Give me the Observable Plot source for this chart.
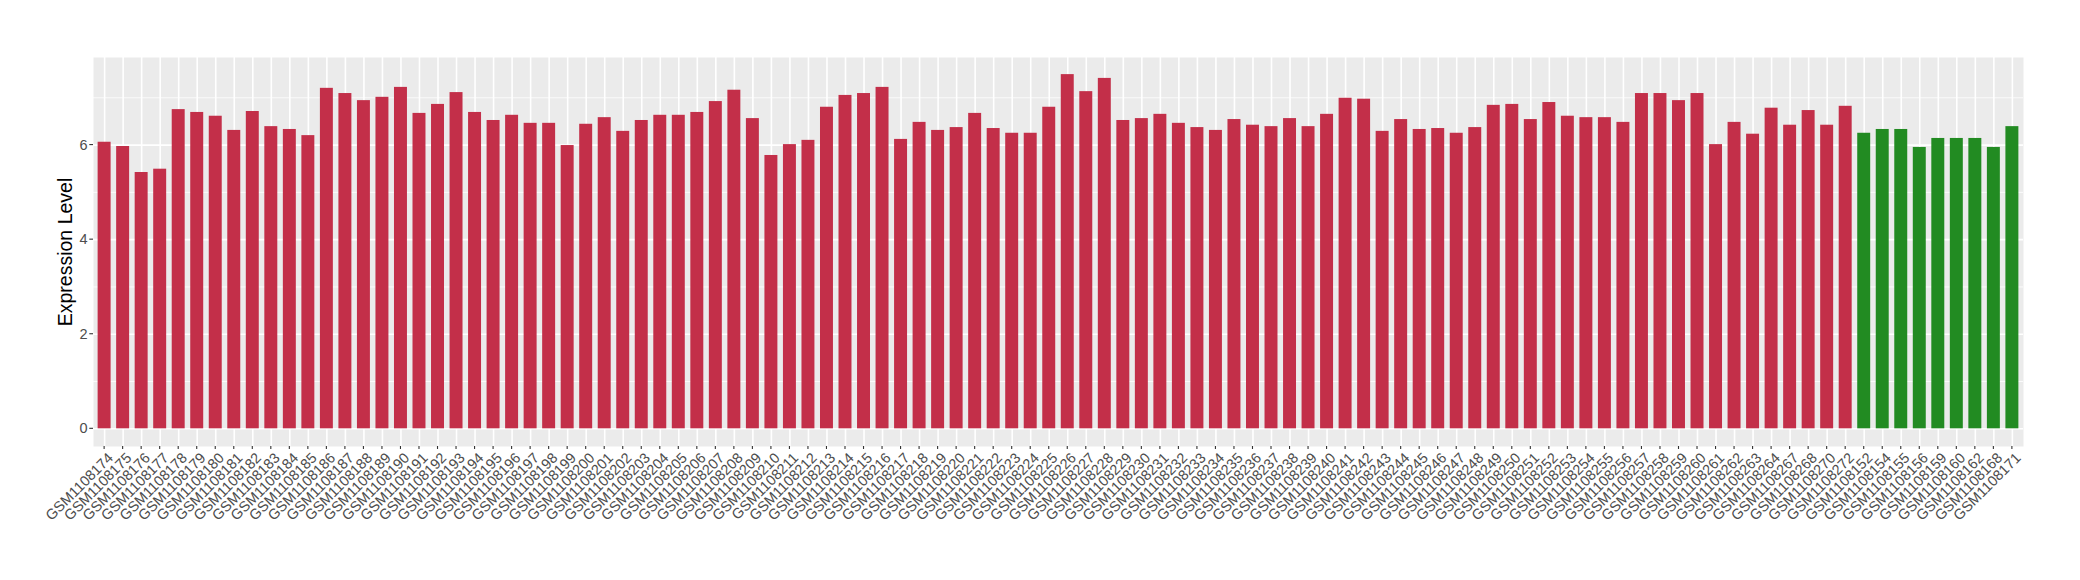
<!DOCTYPE html>
<html>
<head>
<meta charset="utf-8">
<script src="https://cdn.jsdelivr.net/npm/d3@7"></script>
<script src="https://cdn.jsdelivr.net/npm/@observablehq/plot@0.6"></script>
<style>
  html, body { margin: 0; padding: 0; background: #ffffff; }
  #chart { width: 2080px; height: 580px; }
</style>
</head>
<body>
<div id="chart"></div>
<script>
const samples = [
  "GSM1108174","GSM1108175","GSM1108176","GSM1108177","GSM1108178","GSM1108179","GSM1108180","GSM1108181",
  "GSM1108182","GSM1108183","GSM1108184","GSM1108185","GSM1108186","GSM1108187","GSM1108188","GSM1108189",
  "GSM1108190","GSM1108191","GSM1108192","GSM1108193","GSM1108194","GSM1108195","GSM1108196","GSM1108197",
  "GSM1108198","GSM1108199","GSM1108200","GSM1108201","GSM1108202","GSM1108203","GSM1108204","GSM1108205",
  "GSM1108206","GSM1108207","GSM1108208","GSM1108209","GSM1108210","GSM1108211","GSM1108212","GSM1108213",
  "GSM1108214","GSM1108215","GSM1108216","GSM1108217","GSM1108218","GSM1108219","GSM1108220","GSM1108221",
  "GSM1108222","GSM1108223","GSM1108224","GSM1108225","GSM1108226","GSM1108227","GSM1108228","GSM1108229",
  "GSM1108230","GSM1108231","GSM1108232","GSM1108233","GSM1108234","GSM1108235","GSM1108236","GSM1108237",
  "GSM1108238","GSM1108239","GSM1108240","GSM1108241","GSM1108242","GSM1108243","GSM1108244","GSM1108245",
  "GSM1108246","GSM1108247","GSM1108248","GSM1108249","GSM1108250","GSM1108251","GSM1108252","GSM1108253",
  "GSM1108254","GSM1108255","GSM1108256","GSM1108257","GSM1108258","GSM1108259","GSM1108260","GSM1108261",
  "GSM1108262","GSM1108263","GSM1108264","GSM1108267","GSM1108268","GSM1108270","GSM1108272",
  "GSM1108152","GSM1108154","GSM1108155","GSM1108156","GSM1108159","GSM1108160","GSM1108162","GSM1108168",
  "GSM1108171"
];

const values = [
  6.06, 5.97, 5.42, 5.49, 6.75, 6.69, 6.61, 6.31,
  6.71, 6.39, 6.33, 6.20, 7.20, 7.09, 6.94, 7.01,
  7.22, 6.67, 6.86, 7.11, 6.69, 6.52, 6.63, 6.46,
  6.46, 5.99, 6.44, 6.58, 6.29, 6.52, 6.63, 6.63,
  6.69, 6.92, 7.16, 6.56, 5.78, 6.01, 6.10, 6.80,
  7.05, 7.09, 7.22, 6.12, 6.48, 6.31, 6.37, 6.67,
  6.35, 6.25, 6.25, 6.80, 7.49, 7.13, 7.41, 6.52,
  6.56, 6.65, 6.46, 6.37, 6.31, 6.54, 6.42, 6.39,
  6.56, 6.39, 6.65, 6.99, 6.97, 6.29, 6.54, 6.33,
  6.35, 6.25, 6.37, 6.84, 6.86, 6.54, 6.90, 6.61,
  6.58, 6.58, 6.48, 7.09, 7.09, 6.94, 7.09, 6.01,
  6.48, 6.23, 6.78, 6.42, 6.73, 6.42, 6.82,
  6.25, 6.33, 6.33, 5.95, 6.14, 6.14, 6.14, 5.95,
  6.39
];

const groups = [
  ...Array(95).fill("disease"),
  ...Array(9).fill("control")
];

const groupNames = ["disease", "control"];
const yTicks = [0, 2, 4, 6];
const yMinorTicks = [1, 3, 5, 7];
const yTitle = "Expression Level";

const data = samples.map((s, i) => ({sample: s, value: values[i], group: groups[i]}));

const font = "'Liberation Sans', Arial, Helvetica, sans-serif";

const chart = Plot.plot({
  width: 2080,
  height: 580,
  marginLeft: 93,
  marginRight: 57,
  marginTop: 57,
  marginBottom: 134,
  style: {fontFamily: font, background: "#ffffff"},
  x: {domain: samples, paddingInner: 0.3, paddingOuter: 0.25, align: 0.5, label: null, axis: null},
  y: {domain: [-0.374, 7.852], label: null, axis: null},
  color: {domain: groupNames, range: ["#C32F49", "#228B22"]},
  marks: [
    Plot.frame({fill: "#EBEBEB", stroke: null}),
    Plot.gridY(yMinorTicks, {stroke: "#ffffff", strokeOpacity: 1, strokeWidth: 0.8}),
    Plot.gridY(yTicks, {stroke: "#ffffff", strokeOpacity: 1, strokeWidth: 1.6}),
    Plot.gridX({stroke: "#ffffff", strokeOpacity: 1, strokeWidth: 1.6}),
    Plot.barY(data, {x: "sample", y: "value", fill: "group"}),
    // y tick labels
    Plot.text(yTicks, {y: d => d, text: d => String(d), frameAnchor: "left", textAnchor: "end",
      dx: -5.8, fontSize: 14.5, fill: "#4D4D4D"}),
    // x tick labels
    Plot.text(samples, {x: d => d, text: d => d, frameAnchor: "bottom", rotate: -45,
      textAnchor: "end", lineAnchor: "top", dy: 5, dx: 2, fontSize: 14.5, fill: "#4D4D4D"}),
    // y title
    Plot.text([yTitle], {
      text: d => d, frameAnchor: "left", rotate: -90, dx: -22,
      lineAnchor: "bottom", fontSize: 19.5, fill: "#000000", textAnchor: "middle"
    })
  ]
});

// small tick marks placed with the plot's own scales
const xs = chart.scale("x");
const ys = chart.scale("y");
const svg = d3.select(chart);
const panelLeft = 93, panelBottom = 580 - 134;
const g = svg.append("g").attr("stroke", "#333333").attr("stroke-width", 1.1);
g.selectAll("line.yt").data(yTicks).join("line")
  .attr("x1", panelLeft - 3.7).attr("x2", panelLeft)
  .attr("y1", d => ys.apply(d)).attr("y2", d => ys.apply(d));
g.selectAll("line.xt").data(samples).join("line")
  .attr("x1", d => xs.apply(d) + xs.bandwidth / 2).attr("x2", d => xs.apply(d) + xs.bandwidth / 2)
  .attr("y1", panelBottom).attr("y2", panelBottom + 3);

document.getElementById("chart").appendChild(chart);
</script>
</body>
</html>
